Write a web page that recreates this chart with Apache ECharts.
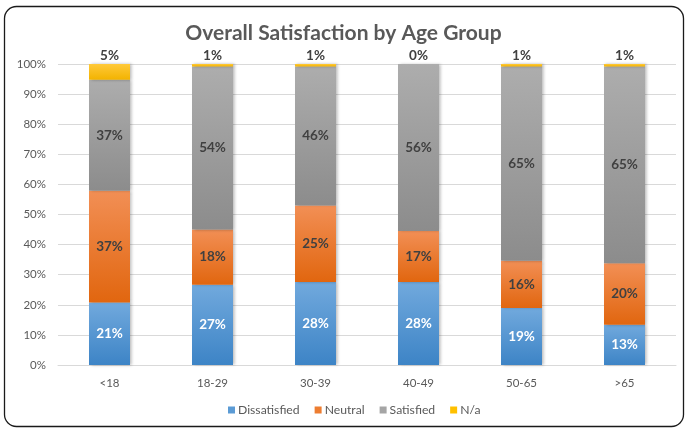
<!DOCTYPE html>
<html>
<head>
<meta charset="utf-8">
<style>
  html, body { margin: 0; padding: 0; background: #ffffff; }
  #chart { width: 687px; height: 430px; }
</style>
<script src="https://cdn.jsdelivr.net/npm/echarts@6/dist/echarts.min.js"></script>
</head>
<body>
<div id="chart"></div>
<script>
// Age groups along the x axis
const ageGroups = ['<18', '18-29', '30-39', '40-49', '50-65', '>65'];

// Share of respondents (%) per age group
const dissatisfied = [20.8, 26.7, 27.6, 27.6, 18.9, 13.4];
const neutral      = [37.1, 18.3, 25.4, 16.9, 15.7, 20.4];
const satisfied    = [36.9, 54.2, 46.2, 55.5, 64.6, 65.4];
const notAnswered  = [5.2, 0.8, 0.8, 0.0, 0.8, 0.8];

const yTicks = [0, 10, 20, 30, 40, 50, 60, 70, 80, 90, 100];

const FONT = 'Lato, "Open Sans", sans-serif';
const TEXT = '#595959';

function grad(top, bottom) {
  return new echarts.graphic.LinearGradient(0, 0, 0, 1, [
    { offset: 0, color: top },
    { offset: 1, color: bottom }
  ]);
}

function pct(p) { return Math.round(p.value) + '%'; }

function makeSeries(name, data, top, bottom, labelColor, labelPos) {
  return {
    name: name,
    type: 'bar',
    stack: 'total',
    data: data,
    barWidth: 41,
    itemStyle: {
      color: grad(top, bottom),
      shadowColor: 'rgba(0,0,0,0.28)',
      shadowBlur: 3,
      shadowOffsetX: 1.5,
      shadowOffsetY: 0
    },
    label: {
      show: true,
      position: labelPos,
      distance: 1,
      formatter: pct,
      color: labelColor,
      fontFamily: FONT,
      fontWeight: 'bold',
      fontSize: 13.5
    },
    emphasis: { disabled: true }
  };
}

const chart = echarts.init(document.getElementById('chart'), null, { renderer: 'canvas' });

chart.setOption({
  backgroundColor: '#ffffff',
  animation: false,
  graphic: [{
    type: 'rect',
    shape: { x: 4.5, y: 6.5, width: 679, height: 420, r: 12 },
    style: { fill: 'none', stroke: '#1a1a1a', lineWidth: 1.3 },
    z: 100
  }],
  title: {
    text: 'Overall Satisfaction by Age Group',
    left: 'center',
    top: 18,
    textStyle: {
      fontFamily: FONT,
      fontWeight: 'bold',
      fontSize: 21,
      color: TEXT
    }
  },
  legend: {
    bottom: 9,
    left: 223,
    itemWidth: 7,
    itemHeight: 7,
    itemGap: 15,
    icon: 'rect',
    textStyle: { fontFamily: FONT, fontSize: 12.2, color: TEXT, padding: [0, 0, 0, -2] },
    data: [
      { name: 'Dissatisfied', itemStyle: { color: '#5b9bd5' } },
      { name: 'Neutral', itemStyle: { color: '#ed7d31' } },
      { name: 'Satisfied', itemStyle: { color: '#a5a5a5' } },
      { name: 'N/a', itemStyle: { color: '#ffc000' } }
    ]
  },
  grid: { left: 58, right: 11, top: 64, bottom: 65, containLabel: false },
  xAxis: {
    type: 'category',
    data: ageGroups,
    axisLine: { lineStyle: { color: '#d9d9d9', width: 1 } },
    axisTick: { show: false },
    axisLabel: { fontFamily: FONT, fontSize: 11.5, color: TEXT, margin: 12 }
  },
  yAxis: {
    type: 'value',
    min: yTicks[0],
    max: yTicks[yTicks.length - 1],
    interval: yTicks[1] - yTicks[0],
    axisLine: { show: false },
    axisTick: { show: false },
    axisLabel: { fontFamily: FONT, fontSize: 11.5, color: TEXT, margin: 12, formatter: v => v + '%' },
    splitLine: { lineStyle: { color: '#d9d9d9', width: 1 } }
  },
  series: [
    makeSeries('Dissatisfied', dissatisfied, '#71a9dd', '#3d84c6', '#ffffff', 'inside'),
    makeSeries('Neutral', neutral, '#f28f55', '#e1660f', '#404040', 'inside'),
    makeSeries('Satisfied', satisfied, '#adadad', '#8c8c8c', '#404040', 'inside'),
    makeSeries('N/a', notAnswered, '#ffc93a', '#f3b300', '#404040', 'top')
  ]
});
</script>
</body>
</html>
